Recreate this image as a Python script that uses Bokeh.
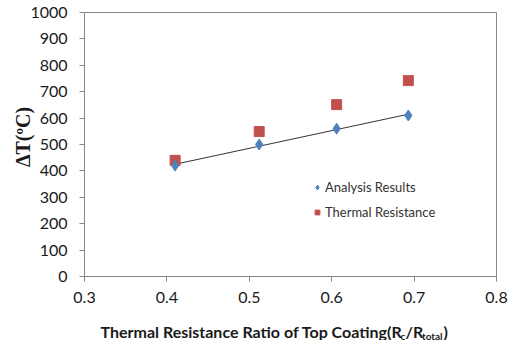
import numpy as np
from bokeh.plotting import figure
from bokeh.layouts import column
from bokeh.models import Range1d, FixedTicker, Legend, LegendItem
from bokeh.core.properties import value
from bokeh.embed import file_html
from bokeh.resources import INLINE

# Measured temperature difference against thermal resistance ratio
ratio = [0.41, 0.512, 0.606, 0.693]
analysis_results = [420, 500, 560, 610]
thermal_resistance = [440, 549, 651, 742]

x_ticks = [0.3, 0.4, 0.5, 0.6, 0.7, 0.8]
y_ticks = [0, 100, 200, 300, 400, 500, 600, 700, 800, 900, 1000]

# x-axis title pieces: (text, baseline shift, font size)
x_title_parts = [
    ("Thermal Resistance Ratio of Top Coating(R", 0, "16px"),
    ("c", -4, "10px"),
    ("/R", 0, "16px"),
    ("total", -4, "10px"),
    (")", 0, "16px"),
]
x_title_widths = [300.0, 5.0, 16.5, 21.5, 6.0]

TICK_FONT = "Lato"
AXIS_GREY = "#868686"
TEXT = "#1a1a1a"
NBSP = "\u00a0"

p = figure(width=512, height=312, output_backend="svg", toolbar_location=None,
           x_range=Range1d(0.3, 0.8), y_range=Range1d(0, 1000),
           min_border_left=84, min_border_right=16, min_border_top=12, min_border_bottom=36)
p.background_fill_color = "white"
p.border_fill_color = "white"
p.outline_line_color = AXIS_GREY
p.outline_line_width = 1
p.xgrid.visible = False
p.ygrid.visible = False

for ax in (p.xaxis, p.yaxis):
    ax.axis_line_color = AXIS_GREY
    ax.major_tick_line_color = AXIS_GREY
    ax.major_tick_in = 0
    ax.major_tick_out = 5
    ax.minor_tick_line_color = None
    ax.major_label_text_font = TICK_FONT
    ax.major_label_text_font_size = "16px"
    ax.major_label_text_color = TEXT
p.xaxis.ticker = FixedTicker(ticks=x_ticks)
p.yaxis.ticker = FixedTicker(ticks=y_ticks)
p.xaxis.major_label_standoff = 10
p.yaxis.major_label_standoff = 12

# leading no-break spaces lift the rotated title a little above the frame centre
p.yaxis.axis_label = NBSP * 3 + "ΔT(ºC)"
p.yaxis.axis_label_text_font = "Liberation Serif"
p.yaxis.axis_label_text_font_style = "bold"
p.yaxis.axis_label_text_font_size = "20px"
p.yaxis.axis_label_text_color = TEXT
p.yaxis.axis_label_standoff = -7

# Linear trend through the analysis results
slope, intercept = np.polyfit(ratio, analysis_results, 1)
trend_x = [min(ratio), max(ratio)]
trend_y = [slope * v + intercept for v in trend_x]
p.line(trend_x, trend_y, line_color="#333333", line_width=1)

r_tr = p.scatter(ratio, thermal_resistance, marker="square", size=10,
                 fill_color="#C0504D", line_color="#C0504D")
r_an = p.scatter(ratio, analysis_results, marker="diamond", size=11,
                 fill_color="#4F81BD", line_color="#4F81BD")

legend = Legend(items=[LegendItem(label="Analysis Results", renderers=[r_an]),
                       LegendItem(label="Thermal Resistance", renderers=[r_tr])],
                location=(227, 56), border_line_color=None, background_fill_alpha=0,
                label_text_font=TICK_FONT, label_text_font_size="13px",
                label_text_color="#333333", glyph_width=12, glyph_height=12,
                spacing=9, padding=0, margin=0, label_standoff=2)
p.add_layout(legend, "center")

# Strip under the chart carrying the x-axis title with subscripts; its frame is
# aligned with the chart frame, so the x range is given in page pixels 84..496
t = figure(width=512, height=28, output_backend="svg", toolbar_location=None,
           x_range=Range1d(84, 496), y_range=Range1d(0, 28),
           min_border_left=84, min_border_right=16, min_border_top=0, min_border_bottom=0)
t.axis.visible = False
t.grid.visible = False
t.outline_line_color = None
t.background_fill_color = "white"
t.border_fill_color = "white"

xs, ys, texts, sizes = [], [], [], []
x0 = 100
for (txt, dy, fs), w in zip(x_title_parts, x_title_widths):
    xs.append(x0)
    ys.append(9 + dy)
    texts.append(txt)
    sizes.append(fs)
    x0 += w
t.text(x=xs, y=ys, text=texts, text_font_size=sizes, text_font=value(TICK_FONT),
       text_font_style="bold", text_color=TEXT, text_align="left",
       text_baseline="alphabetic")

layout = column(p, t, spacing=0)
open("out.html", "w").write(file_html(layout, INLINE))
